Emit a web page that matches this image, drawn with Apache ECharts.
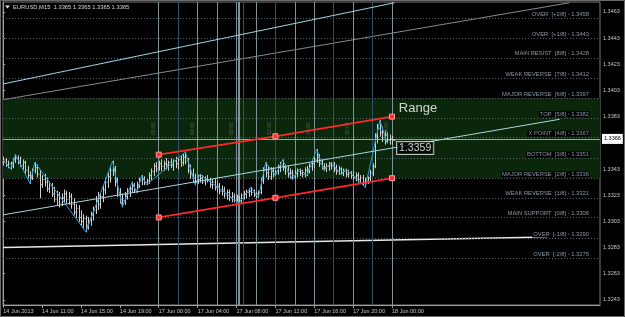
<!DOCTYPE html>
<html><head><meta charset="utf-8">
<script src="https://cdn.jsdelivr.net/npm/echarts@6/dist/echarts.min.js"></script>
<style>html,body{margin:0;padding:0;background:#000;}#c{width:625px;height:317px;}</style>
</head><body><div id="c"></div>
<script>
// ---------------- DATA ----------------
const timeTickIdx = [0,16,32,48,64,80,96,112,128,144,160];
const timeTickLabels = ['14 Jun 2013','14 Jun 11:00','14 Jun 15:00','14 Jun 19:00','17 Jun 00:00','17 Jun 04:00','17 Jun 08:00','17 Jun 12:00','17 Jun 16:00','17 Jun 20:00','18 Jun 00:00'];
const priceTicks = [1.3463,1.3443,1.3423,1.3403,1.3383,1.3343,1.3323,1.3303,1.3283,1.3263,1.3243];
const bidPrice = 1.3366;

const barOpen = [
1.3348,1.3350,1.3346,1.3347,1.3345,1.3350,1.3351,1.3349,1.3346,1.3348,
1.3342,1.3338,1.3336,1.3342,1.3344,1.3339,1.3331,1.3335,1.3333,1.3328,
1.3330,1.3324,1.3320,1.3323,1.3317,1.3321,1.3324,1.3320,1.3322,1.3316,
1.3310,1.3313,1.3306,1.3303,1.3305,1.3300,1.3304,1.3308,1.3311,1.3319,
1.3316,1.3322,1.3327,1.3333,1.3337,1.3342,1.3343,1.3333,1.3325,1.3320,
1.3319,1.3323,1.3326,1.3328,1.3330,1.3327,1.3331,1.3334,1.3335,1.3333,
1.3334,1.3338,1.3341,1.3345,1.3344,1.3347,1.3345,1.3347,1.3346,1.3348,
1.3346,1.3349,1.3347,1.3350,1.3348,1.3352,1.3349,1.3342,1.3339,1.3336,
1.3334,1.3335,1.3336,1.3333,1.3335,1.3334,1.3331,1.3333,1.3329,1.3330,
1.3326,1.3327,1.3323,1.3325,1.3321,1.3322,1.3320,1.3321,1.3319,1.3323,
1.3324,1.3325,1.3326,1.3325,1.3323,1.3324,1.3325,1.3334,1.3342,1.3340,
1.3337,1.3342,1.3339,1.3341,1.3344,1.3346,1.3344,1.3341,1.3339,1.3340,
1.3338,1.3340,1.3341,1.3340,1.3339,1.3342,1.3343,1.3345,1.3347,1.3350,
1.3352,1.3347,1.3345,1.3344,1.3345,1.3346,1.3345,1.3343,1.3341,1.3343,
1.3340,1.3341,1.3339,1.3340,1.3338,1.3337,1.3338,1.3335,1.3336,1.3333,
1.3334,1.3336,1.3340,1.3345,1.3368,1.3374,1.3371,1.3367,1.3369,1.3365,
1.3366,1.3365];
const barHigh = [
1.3352,1.3351,1.3349,1.3348,1.3351,1.3354,1.3353,1.3352,1.3350,1.3349,
1.3345,1.3341,1.3343,1.3348,1.3346,1.3342,1.3338,1.3339,1.3336,1.3333,
1.3332,1.3329,1.3326,1.3325,1.3324,1.3327,1.3326,1.3325,1.3324,1.3320,
1.3316,1.3315,1.3311,1.3308,1.3307,1.3306,1.3310,1.3314,1.3322,1.3325,
1.3324,1.3330,1.3336,1.3340,1.3345,1.3349,1.3345,1.3336,1.3328,1.3324,
1.3325,1.3328,1.3330,1.3333,1.3332,1.3333,1.3336,1.3338,1.3337,1.3335,
1.3340,1.3343,1.3347,1.3348,1.3349,1.3350,1.3349,1.3351,1.3349,1.3351,
1.3350,1.3352,1.3351,1.3353,1.3354,1.3356,1.3351,1.3346,1.3343,1.3339,
1.3338,1.3339,1.3338,1.3337,1.3338,1.3336,1.3335,1.3335,1.3333,1.3332,
1.3330,1.3329,1.3327,1.3327,1.3325,1.3324,1.3323,1.3322,1.3324,1.3326,
1.3327,1.3328,1.3329,1.3327,1.3325,1.3326,1.3336,1.3344,1.3348,1.3345,
1.3344,1.3344,1.3342,1.3346,1.3348,1.3350,1.3346,1.3345,1.3343,1.3342,
1.3342,1.3343,1.3343,1.3342,1.3344,1.3345,1.3347,1.3349,1.3352,1.3358,
1.3354,1.3350,1.3347,1.3347,1.3348,1.3348,1.3348,1.3346,1.3345,1.3344,
1.3343,1.3343,1.3342,1.3341,1.3341,1.3340,1.3340,1.3338,1.3338,1.3336,
1.3337,1.3342,1.3347,1.3370,1.3377,1.3380,1.3375,1.3372,1.3371,1.3369,
1.3368,1.3365];
const barLow = [
1.3346,1.3345,1.3344,1.3343,1.3344,1.3348,1.3347,1.3345,1.3343,1.3340,
1.3336,1.3332,1.3335,1.3340,1.3337,1.3321,1.3329,1.3330,1.3326,1.3325,
1.3322,1.3318,1.3316,1.3314,1.3315,1.3318,1.3317,1.3316,1.3313,1.3308,
1.3306,1.3303,1.3300,1.3298,1.3295,1.3297,1.3300,1.3304,1.3309,1.3312,
1.3313,1.3318,1.3324,1.3329,1.3333,1.3338,1.3330,1.3322,1.3317,1.3314,
1.3316,1.3320,1.3322,1.3325,1.3325,1.3325,1.3329,1.3331,1.3331,1.3331,
1.3332,1.3335,1.3338,1.3341,1.3342,1.3342,1.3342,1.3343,1.3342,1.3344,
1.3342,1.3344,1.3343,1.3345,1.3346,1.3347,1.3340,1.3336,1.3333,1.3331,
1.3332,1.3333,1.3332,1.3331,1.3333,1.3329,1.3328,1.3327,1.3326,1.3324,
1.3323,1.3321,1.3320,1.3319,1.3318,1.3318,1.3318,1.3317,1.3317,1.3320,
1.3321,1.3322,1.3323,1.3322,1.3321,1.3321,1.3324,1.3332,1.3337,1.3335,
1.3335,1.3337,1.3338,1.3339,1.3341,1.3342,1.3339,1.3337,1.3336,1.3335,
1.3336,1.3337,1.3338,1.3337,1.3337,1.3338,1.3340,1.3342,1.3344,1.3348,
1.3345,1.3343,1.3342,1.3341,1.3342,1.3343,1.3341,1.3339,1.3339,1.3339,
1.3338,1.3337,1.3337,1.3336,1.3335,1.3334,1.3333,1.3332,1.3331,1.3329,
1.3332,1.3334,1.3338,1.3344,1.3363,1.3368,1.3364,1.3362,1.3363,1.3362,
1.3362,1.3365];
const barClose = [
1.3350,1.3346,1.3347,1.3345,1.3350,1.3351,1.3349,1.3346,1.3348,1.3342,
1.3338,1.3336,1.3342,1.3344,1.3339,1.3331,1.3335,1.3333,1.3328,1.3330,
1.3324,1.3320,1.3323,1.3317,1.3321,1.3324,1.3320,1.3322,1.3316,1.3310,
1.3313,1.3306,1.3303,1.3305,1.3300,1.3304,1.3308,1.3311,1.3319,1.3316,
1.3322,1.3327,1.3333,1.3337,1.3342,1.3343,1.3333,1.3325,1.3320,1.3319,
1.3323,1.3326,1.3328,1.3330,1.3327,1.3331,1.3334,1.3335,1.3333,1.3334,
1.3338,1.3341,1.3345,1.3343,1.3347,1.3345,1.3347,1.3346,1.3348,1.3346,
1.3349,1.3347,1.3350,1.3348,1.3352,1.3349,1.3342,1.3339,1.3336,1.3334,
1.3335,1.3336,1.3333,1.3335,1.3334,1.3331,1.3333,1.3329,1.3330,1.3326,
1.3327,1.3323,1.3325,1.3321,1.3322,1.3320,1.3321,1.3319,1.3323,1.3324,
1.3325,1.3326,1.3325,1.3323,1.3324,1.3325,1.3334,1.3342,1.3340,1.3337,
1.3342,1.3339,1.3341,1.3344,1.3346,1.3344,1.3341,1.3339,1.3340,1.3338,
1.3340,1.3341,1.3340,1.3339,1.3342,1.3343,1.3345,1.3347,1.3350,1.3352,
1.3347,1.3345,1.3344,1.3345,1.3346,1.3345,1.3343,1.3341,1.3343,1.3340,
1.3341,1.3339,1.3340,1.3338,1.3337,1.3338,1.3335,1.3336,1.3333,1.3334,
1.3336,1.3340,1.3345,1.3368,1.3374,1.3371,1.3367,1.3369,1.3365,1.3366,
1.3365,1.3365];

const zzIndex = [0,3,5,11,13,34,45,49,53,55,57,59,75,79,81,97,102,105,108,112,115,119,122,125,129,132,135,139,141,149,155,158];
const zzPrice = [1.3350,1.3343,1.3354,1.3332,1.3348,1.3295,1.3349,1.3314,1.3333,1.3325,1.3338,1.3331,1.3356,1.3331,1.3339,1.3317,1.3329,1.3321,1.3348,1.3338,1.3350,1.3335,1.3343,1.3338,1.3358,1.3342,1.3348,1.3339,1.3343,1.3329,1.3380,1.3363];

const murreyLevels = [1.3458,1.3443,1.3428,1.3412,1.3397,1.3382,1.3367,1.3351,1.3336,1.3321,1.3306,1.3290,1.3275];
const murreyNames = ['OVER  [+2/8]','OVER  [+1/8]','MAIN RESIST  [8/8]','WEAK REVERSE  [7/8]','MAJOR REVERSE  [6/8]','TOP  [5/8]','X POINT  [4/8]','BOTTOM  [3/8]','MAJOR REVERSE  [2/8]','WEAK REVERSE  [1/8]','MAIN SUPPORT  [0/8]','OVER  [-1/8]','OVER  [-2/8]'];
const zoneTop = 1.3397, zoneBottom = 1.3336;

const vLineIdx = [64,72,80,88,96,96.7,97.3,98.8,104,112,120,128,136,144,152,160];
const sessionIdx = [64,80,96,112,128,144,160];
const sessionLabels = ['00:00','04:00','08:00','12:00','16:00','20:00','24:00'];

const lineA = [[0,1.3408],[161,1.3470]];
const lineB = [[0,1.3396],[233,1.3470]];
const lineC = [[0,1.3308],[229,1.3381]];
const lineD = [[0,1.3283],[224,1.3291]];
const channelUpper = [[64,1.3354],[112,1.3368],[160,1.3383]];
const channelLower = [[64,1.3306],[112,1.3321],[160,1.3336]];
const priceTag = {idx:162.1, price:1.3359, text:'1.3359'};
const rangeTag = {idx:162.8, price:1.3389, text:'Range'};
const header = 'EURUSD,M15  1.3365 1.3365 1.3365 1.3365';

// ---------------- CHART ----------------
const FONT = '"Liberation Sans", Arial, sans-serif';
const darkV = new Set([72, 98.8, 112, 136, 152]);
const chart = echarts.init(document.getElementById('c'), null, {renderer:'canvas'});
const barData = barOpen.map((o,i)=>[i,o,barHigh[i],barLow[i],barClose[i]]);
const dummy = [[0,1.335]];
const hidden = {showSymbol:false, lineStyle:{opacity:0}, silent:true, tooltip:{show:false}};

const option = {
  backgroundColor:'#000',
  animation:false,
  grid:{left:3,right:25,top:2,bottom:12,show:true,borderColor:'#7a7a7a',borderWidth:1,backgroundColor:'#000'},
  xAxis:{type:'value',min:-0.1,max:245.6,
    axisLine:{show:true,lineStyle:{color:'#a0a0a0'}},
    splitLine:{show:false},
    axisTick:{show:true,customValues:timeTickIdx,length:3,lineStyle:{color:'#a0a0a0'}},
    axisLabel:{customValues:timeTickIdx,formatter:v=>timeTickLabels[timeTickIdx.indexOf(v)],
      color:'#c8c8c8',fontSize:5.5,fontFamily:FONT,align:'left',margin:3}},
  yAxis:{type:'value',position:'right',min:1.32391,max:1.34706,
    axisLine:{show:true,lineStyle:{color:'#a0a0a0'}},
    splitLine:{show:false},
    axisTick:{show:true,customValues:priceTicks,length:2,lineStyle:{color:'#a0a0a0'}},
    axisLabel:{customValues:priceTicks,formatter:v=>v.toFixed(4),color:'#c8c8c8',fontSize:5.5,fontFamily:FONT,margin:3}},
  graphic:[
    {type:'rect',shape:{x:0.5,y:0.5,width:624,height:316},style:{fill:null,stroke:'#6a6a6a',lineWidth:1},silent:true},
    {type:'polygon',shape:{points:[[5,5.5],[10,5.5],[7.5,8.5]]},style:{fill:'#e0e0e0'},silent:true},
    {type:'text',x:13,y:7,style:{text:header,fill:'#d8d8d8',font:'5.8px '+FONT,textVerticalAlign:'middle'},silent:true}
  ],
  series:[
    {type:'line',data:dummy,...hidden,z:1,
      markArea:{silent:true,itemStyle:{color:'#0b270b'},data:[[{yAxis:zoneTop},{yAxis:zoneBottom}]]}},
    {type:'line',data:dummy,...hidden,z:2,
      markLine:{silent:true,precision:4,symbol:['none','none'],label:{show:false},animation:false,
        data:vLineIdx.map(v=>({xAxis:v,lineStyle:{color:darkV.has(v)?'#30506c':'#7f9098',width:1,type:'solid'}}))}},
    {type:'line',data:dummy,...hidden,z:3,
      markLine:{silent:true,precision:4,symbol:['none','none'],animation:false,
        lineStyle:{color:'#56656e',width:1,type:[1,2]},
        label:{show:true,position:'insideEndTop',distance:[10,1],color:'#8a98a6',fontSize:5.8,fontFamily:FONT,backgroundColor:'#000',padding:[0,1]},
        data:murreyLevels.map((v,k)=>({yAxis:v,label:{formatter:murreyNames[k]+' - '+v.toFixed(4)}}))}},
    {type:'line',data:dummy,...hidden,z:4,
      markLine:{silent:true,precision:4,symbol:['none','none'],animation:false,
        lineStyle:{color:'#9aa6ae',width:1,type:'solid'},
        label:{show:true,position:'end',distance:2,formatter:bidPrice.toFixed(4),color:'#000',backgroundColor:'#ffffff',fontSize:5.5,fontFamily:FONT,padding:[2,2]},
        data:[{yAxis:bidPrice}]}},
    {type:'line',data:lineB,showSymbol:false,lineStyle:{color:'#8a8a8a',width:1},z:4,silent:true},
    {type:'line',data:lineD,showSymbol:false,lineStyle:{color:'#e8e8e8',width:1.5},z:4,silent:true},
    {type:'custom',data:barData,z:5,silent:true,encode:{x:0,y:[1,2,3,4]},
      renderItem:(params,api)=>{
        const i=api.value(0);
        const ph=api.coord([i,api.value(2)]), pl=api.coord([i,api.value(3)]);
        const po=api.coord([i,api.value(1)]), pc=api.coord([i,api.value(4)]);
        const x=Math.round(ph[0])+0.5;
        const st={stroke:'#cfcfcf',lineWidth:1};
        return {type:'group',children:[
          {type:'line',shape:{x1:x,y1:ph[1]-0.5,x2:x,y2:pl[1]+0.5},style:st},
          {type:'line',shape:{x1:x-1,y1:po[1],x2:x,y2:po[1]},style:st},
          {type:'line',shape:{x1:x,y1:pc[1],x2:x+1,y2:pc[1]},style:st}
        ]};
      }},
    {type:'line',data:zzIndex.map((v,k)=>[v,zzPrice[k]]),showSymbol:false,lineStyle:{color:'#2f9dd8',width:1},z:6,silent:true},
    {type:'line',data:lineA,showSymbol:false,lineStyle:{color:'#9fd6e6',width:1},z:6,silent:true},
    {type:'line',data:lineC,showSymbol:false,lineStyle:{color:'#a6d6de',width:1},z:6,silent:true},
    {type:'line',data:channelUpper,symbol:'rect',symbolSize:5,showSymbol:true,
      itemStyle:{color:'#ff3030',borderColor:'#ff9a9a',borderWidth:1},lineStyle:{color:'#ff2828',width:1.7},z:8,silent:true},
    {type:'line',data:channelLower,symbol:'rect',symbolSize:5,showSymbol:true,
      itemStyle:{color:'#ff3030',borderColor:'#ff9a9a',borderWidth:1},lineStyle:{color:'#ff2828',width:1.7},z:8,silent:true},
    {type:'scatter',symbolSize:0,z:9,silent:true,
      data:sessionIdx.map((v,k)=>[v-2.2,1.3374,sessionLabels[k]]),
      label:{show:true,position:'inside',rotate:90,formatter:p=>p.data[2],color:'#6e6e6e',fontSize:5,fontFamily:FONT}},
    {type:'scatter',symbolSize:0,z:10,silent:true,
      data:[[priceTag.idx,priceTag.price,priceTag.text]],
      label:{show:true,position:'right',distance:0,formatter:p=>p.data[2],color:'#ffffff',fontSize:10.5,fontFamily:FONT,
        backgroundColor:'#000',borderColor:'#e8e8e8',borderWidth:1,padding:[1,2,0,2]}},
    {type:'scatter',symbolSize:0,z:10,silent:true,
      data:[[rangeTag.idx,rangeTag.price,rangeTag.text]],
      label:{show:true,position:'right',distance:0,formatter:p=>p.data[2],color:'#ffffff',fontSize:13,fontFamily:FONT}}
  ]
};
chart.setOption(option);
</script></body></html>
